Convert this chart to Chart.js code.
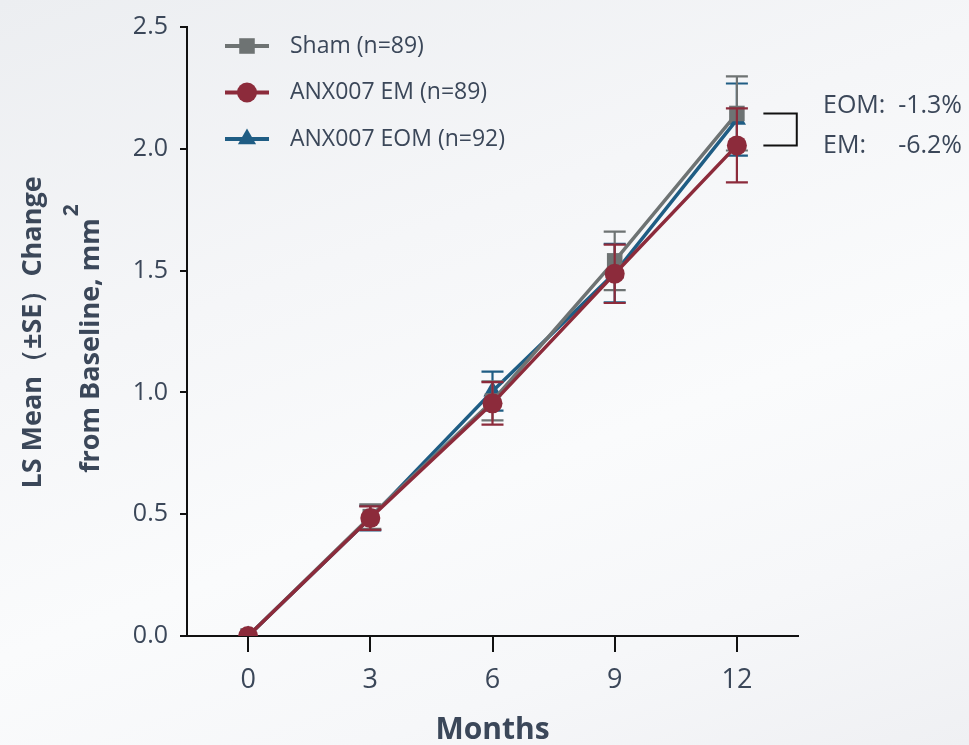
<!DOCTYPE html>
<html>
<head>
<meta charset="utf-8">
<script src="https://cdn.jsdelivr.net/npm/chart.js@4.4.1/dist/chart.umd.min.js"></script>
<style>
  html, body { margin: 0; padding: 0; }
  body {
    width: 969px; height: 745px; overflow: hidden;
    background: linear-gradient(160deg, #eceef1 0%, #f5f6f8 35%, #fafbfc 60%, #f6f7f9 80%, #eff0f3 100%);
  }
  #wrap { position: relative; width: 969px; height: 745px; }
</style>
</head>
<body>
<div id="wrap"><canvas id="c" width="969" height="745"></canvas></div>
<script>
// ---- data ----
const months = [0, 3, 6, 9, 12];
const yTicks = [0, 0.5, 1.0, 1.5, 2.0, 2.5];
const seriesNames = ['Sham (n=89)', 'ANX007 EM (n=89)', 'ANX007 EOM (n=92)'];
const sham   = [0, 0.490, 0.965, 1.540, 2.145];
const shamSE = [0, 0.050, 0.080, 0.120, 0.152];
const em     = [0, 0.484, 0.955, 1.487, 2.014];
const emSE   = [0, 0.048, 0.087, 0.120, 0.152];
const eom    = [0, 0.484, 1.005, 1.490, 2.120];
const eomSE  = [0, 0.050, 0.080, 0.120, 0.148];
const annotationLabels = ['EOM:', '-1.3%', 'EM:', '-6.2%'];
const xTitle = 'Months';
const yTitleLine1 = 'LS Mean（±SE）Change';
const yTitleLine2 = 'from Baseline, mm';
const yTitleSup = '2';

const TXT = '#3b4759';
const C_SHAM = '#6e7373';
const C_EM = '#8c2b3b';
const C_EOM = '#1f5d84';

function pts(vals) { return months.map((m, i) => ({ x: m, y: vals[i] })); }

const errorBars = {
  id: 'errorBars',
  beforeDatasetDraw(chart, args) {
    const ds = chart.data.datasets[args.index];
    const xs = chart.scales.x, ys = chart.scales.y;
    const ctx = chart.ctx;
    ctx.save();
    ctx.strokeStyle = ds.borderColor;
    ctx.lineWidth = 2.2;
    const vals = ds.vals, se = ds.se;
    months.forEach((m, k) => {
      if (!se[k]) return;
      const px = xs.getPixelForValue(m);
      const top = ys.getPixelForValue(vals[k] + se[k]);
      const bot = ys.getPixelForValue(vals[k] - se[k]);
      ctx.beginPath();
      ctx.moveTo(px, top); ctx.lineTo(px, bot);
      ctx.moveTo(px - 11, top); ctx.lineTo(px + 11, top);
      ctx.moveTo(px - 11, bot); ctx.lineTo(px + 11, bot);
      ctx.stroke();
    });
    ctx.restore();
  }
};

const extras = {
  id: 'extras',
  afterDraw(chart) {
    const ctx = chart.ctx;
    const xs = chart.scales.x, ys = chart.scales.y;
    const area = chart.chartArea;
    ctx.save();
    // y title (two lines, rotated)
    ctx.fillStyle = TXT;
    ctx.textBaseline = 'alphabetic';
    const cy = (area.top + area.bottom) / 2 + 1;
    ctx.font = "bold 27px 'Open Sans', sans-serif";
    ctx.save();
    ctx.translate(41, cy);
    ctx.rotate(-Math.PI / 2);
    ctx.textAlign = 'center';
    ctx.fillText(yTitleLine1, 0, 0);
    ctx.restore();
    // line 2 with superscript
    ctx.save();
    ctx.translate(99, cy + 6);
    ctx.rotate(-Math.PI / 2);
    const w2 = ctx.measureText(yTitleLine2).width;
    ctx.font = "bold 21px 'Open Sans', sans-serif";
    const ws = ctx.measureText(yTitleSup).width;
    const start = -(w2 + ws + 2) / 2;
    ctx.font = "bold 27px 'Open Sans', sans-serif";
    ctx.textAlign = 'left';
    ctx.fillText(yTitleLine2, start, 0);
    ctx.font = "bold 21px 'Open Sans', sans-serif";
    ctx.fillText(yTitleSup, start + w2 + 2, -21);
    ctx.restore();

    // legend
    const legend = [
      { name: seriesNames[0], color: C_SHAM, style: 'rect', r: 11 },
      { name: seriesNames[1], color: C_EM, style: 'circle', r: 10 },
      { name: seriesNames[2], color: C_EOM, style: 'triangle', r: 10.5 }
    ];
    legend.forEach((it, k) => {
      const y = 46 + k * 46.5;
      ctx.strokeStyle = it.color;
      ctx.lineWidth = 4;
      ctx.beginPath(); ctx.moveTo(225, y); ctx.lineTo(269, y); ctx.stroke();
      ctx.fillStyle = it.color;
      Chart.helpers.drawPoint(ctx, { pointStyle: it.style, rotation: 0, borderWidth: 0, radius: it.r },
        247, y);
      ctx.fillStyle = TXT;
      ctx.textAlign = 'left';
      ctx.textBaseline = 'middle';
      ctx.font = "23px 'Open Sans', sans-serif";
      ctx.fillText(it.name, 290, y);
    });

    // bracket annotation (data coordinates)
    const x1 = xs.getPixelForValue(12.65), x2 = xs.getPixelForValue(13.47);
    const yA = ys.getPixelForValue(sham[4]), yB = ys.getPixelForValue(em[4]);
    ctx.strokeStyle = '#111';
    ctx.lineWidth = 2;
    ctx.beginPath();
    ctx.moveTo(x1, yA); ctx.lineTo(x2, yA); ctx.lineTo(x2, yB); ctx.lineTo(x1, yB);
    ctx.stroke();

    ctx.fillStyle = TXT;
    ctx.font = "25px 'Open Sans', sans-serif";
    ctx.textBaseline = 'middle';
    ctx.textAlign = 'left';
    ctx.fillText(annotationLabels[0], 823, 106);
    ctx.fillText(annotationLabels[2], 823, 146);
    ctx.textAlign = 'right';
    ctx.fillText(annotationLabels[1], 962, 106);
    ctx.fillText(annotationLabels[3], 962, 146);
    ctx.restore();
  }
};

const common = { borderWidth: 3.5, pointBorderWidth: 0, tension: 0, fill: false };

new Chart(document.getElementById('c'), {
  type: 'line',
  data: {
    datasets: [
      Object.assign({ label: seriesNames[1], data: pts(em), vals: em, se: emSE, borderColor: C_EM, backgroundColor: C_EM,
        pointBackgroundColor: C_EM, pointStyle: 'circle', pointRadius: 10, order: 0 }, common),
      Object.assign({ label: seriesNames[0], data: pts(sham), vals: sham, se: shamSE, borderColor: C_SHAM, backgroundColor: C_SHAM,
        pointBackgroundColor: C_SHAM, pointStyle: 'rect', pointRadius: 11, order: 1 }, common),
      Object.assign({ label: seriesNames[2], data: pts(eom), vals: eom, se: eomSE, borderColor: C_EOM, backgroundColor: C_EOM,
        pointBackgroundColor: C_EOM, pointStyle: 'triangle', pointRadius: 10.5, order: 2 }, common)
    ]
  },
  options: {
    responsive: false,
    animation: false,
    layout: { padding: { left: 0, top: 19, right: 171, bottom: 0 } },
    plugins: { legend: { display: false }, tooltip: { enabled: false } },
    scales: {
      x: {
        type: 'linear', min: -1.5, max: 13.5,
        afterBuildTicks: s => { s.ticks = months.map(v => ({ value: v })); },
        afterFit: s => { s.height = 109; },
        grid: { drawOnChartArea: false, tickLength: 16, color: '#111', lineWidth: 2 },
        border: { color: '#111', width: 2 },
        ticks: { color: TXT, padding: 12, font: { family: "'Open Sans', sans-serif", size: 27 } },
        title: { display: true, text: xTitle, color: TXT, padding: { top: 0, bottom: -3 },
          font: { family: "'Open Sans', sans-serif", size: 30, weight: 'bold' } }
      },
      y: {
        min: 0, max: 2.5,
        afterBuildTicks: s => { s.ticks = yTicks.map(v => ({ value: v })); },
        afterFit: s => { s.width = 187; },
        grid: { drawOnChartArea: false, tickLength: 7, color: '#111', lineWidth: 2 },
        border: { color: '#111', width: 2 },
        ticks: { color: TXT, padding: 12, callback: v => v.toFixed(1),
          font: { family: "'Open Sans', sans-serif", size: 25 } }
      }
    }
  },
  plugins: [errorBars, extras]
});
</script>
</body>
</html>
